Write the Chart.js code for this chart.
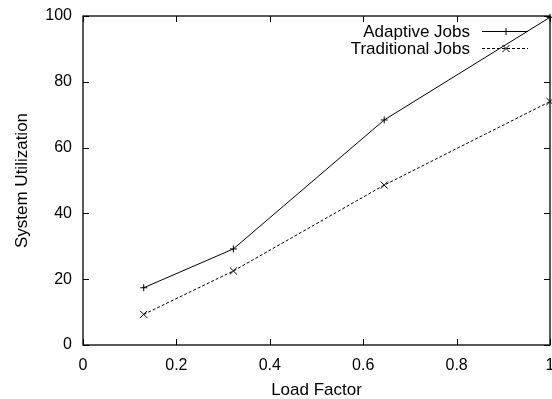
<!DOCTYPE html>
<html>
<head>
<meta charset="utf-8">
<script src="https://cdn.jsdelivr.net/npm/chart.js@4.4.0/dist/chart.umd.min.js"></script>
<style>
  html, body { margin: 0; padding: 0; background: #fff; }
  #wrap { width: 552px; height: 399px; }
</style>
</head>
<body>
<div id="wrap"><canvas id="util-chart" width="552" height="399"></canvas></div>
<script>
// load factor vs. system utilization
const loadFactor = [0.13, 0.322, 0.645, 1.0];
const adaptiveUtil = [17.4, 29.2, 68.4, 99.6];
const traditionalUtil = [9.3, 22.5, 48.6, 74.0];
const xTicks = [0, 0.2, 0.4, 0.6, 0.8, 1];
const yTicks = [0, 20, 40, 60, 80, 100];
const seriesNames = ['Adaptive Jobs', 'Traditional Jobs'];

const FONT = 'Liberation Sans, Arial, Helvetica, sans-serif';

const toPoints = (ys) => loadFactor.map((x, i) => ({ x: x, y: ys[i] }));

// box around the plot with inward ticks on all four sides
const frameTicks = {
  id: 'frameTicks',
  beforeDatasetsDraw(chart) {
    const { ctx, chartArea: a, scales } = chart;
    const len = 6;
    ctx.save();
    ctx.strokeStyle = '#000';
    ctx.lineWidth = 1;
    ctx.beginPath();
    xTicks.forEach(v => {
      const px = Math.round(scales.x.getPixelForValue(v)) + 0.5;
      ctx.moveTo(px, a.bottom); ctx.lineTo(px, a.bottom - len);
      ctx.moveTo(px, a.top); ctx.lineTo(px, a.top + len);
    });
    yTicks.forEach(v => {
      const py = Math.round(scales.y.getPixelForValue(v)) + 0.5;
      ctx.moveTo(a.left, py); ctx.lineTo(a.left + len, py);
      ctx.moveTo(a.right, py); ctx.lineTo(a.right - len, py);
    });
    ctx.stroke();
    ctx.lineWidth = 1.3;
    ctx.strokeRect(a.left, a.top, a.right - a.left, a.bottom - a.top);
    ctx.restore();
  }
};

// key in the top right corner: text first, then line sample with marker
const keyBox = {
  id: 'keyBox',
  afterDraw(chart) {
    const ctx = chart.ctx;
    const rows = [
      { y: 31, ds: chart.data.datasets[0] },
      { y: 48, ds: chart.data.datasets[1] }
    ];
    ctx.save();
    ctx.font = '17px ' + FONT;
    ctx.fillStyle = '#000';
    ctx.textAlign = 'right';
    ctx.textBaseline = 'middle';
    rows.forEach(r => {
      ctx.fillText(r.ds.label, 470, r.y + 1);
      ctx.strokeStyle = '#000';
      ctx.lineWidth = 1;
      ctx.setLineDash(r.ds.borderDash || []);
      ctx.beginPath();
      ctx.moveTo(482, r.y + 0.5);
      ctx.lineTo(528, r.y + 0.5);
      ctx.stroke();
      ctx.setLineDash([]);
      Chart.helpers.drawPoint(ctx, {
        pointStyle: r.ds.pointStyle,
        radius: r.ds.pointRadius,
        rotation: 0,
        borderWidth: 1
      }, 506, r.y + 0.5);
    });
    ctx.restore();
  }
};

new Chart(document.getElementById('util-chart'), {
  type: 'line',
  data: {
    datasets: [
      {
        label: seriesNames[0],
        data: toPoints(adaptiveUtil),
        borderColor: '#000',
        backgroundColor: '#000',
        borderWidth: 1,
        pointStyle: 'cross',
        pointRadius: 3.5,
        pointBorderWidth: 1,
        pointBorderColor: '#000',
        fill: false,
        tension: 0
      },
      {
        label: seriesNames[1],
        data: toPoints(traditionalUtil),
        borderColor: '#000',
        backgroundColor: '#000',
        borderWidth: 1,
        borderDash: [3, 2],
        pointStyle: 'crossRot',
        pointRadius: 5,
        pointBorderWidth: 1,
        pointBorderColor: '#000',
        fill: false,
        tension: 0
      }
    ]
  },
  options: {
    responsive: false,
    animation: false,
    clip: false,
    layout: { autoPadding: false, padding: { top: 16, right: 2, left: 0, bottom: 0 } },
    plugins: {
      legend: { display: false },
      tooltip: { enabled: false }
    },
    scales: {
      x: {
        type: 'linear',
        min: 0,
        max: 1,
        afterBuildTicks: (s) => { s.ticks = xTicks.map(v => ({ value: v })); },
        afterFit: (s) => { s.height = 54; s.paddingLeft = 0; s.paddingRight = 0; },
        grid: { display: false, drawTicks: false },
        border: { display: false },
        ticks: {
          color: '#000',
          padding: 11,
          maxRotation: 0,
          font: { family: FONT, size: 16 },
          callback: (v) => String(Math.round(v * 10) / 10)
        },
        title: {
          display: true,
          text: 'Load Factor',
          color: '#000',
          font: { family: FONT, size: 17 },
          padding: { top: 0, bottom: -2 }
        }
      },
      y: {
        min: 0,
        max: 100,
        afterBuildTicks: (s) => { s.ticks = yTicks.map(v => ({ value: v })); },
        afterFit: (s) => { s.width = 83; s.paddingTop = 0; s.paddingBottom = 0; },
        grid: { display: false, drawTicks: false },
        border: { display: false },
        ticks: {
          color: '#000',
          padding: 11,
          font: { family: FONT, size: 16 }
        },
        title: {
          display: true,
          text: 'System Utilization',
          color: '#000',
          font: { family: FONT, size: 17 },
          padding: { top: 12, bottom: 0 }
        }
      }
    }
  },
  plugins: [frameTicks, keyBox]
});
</script>
</body>
</html>
